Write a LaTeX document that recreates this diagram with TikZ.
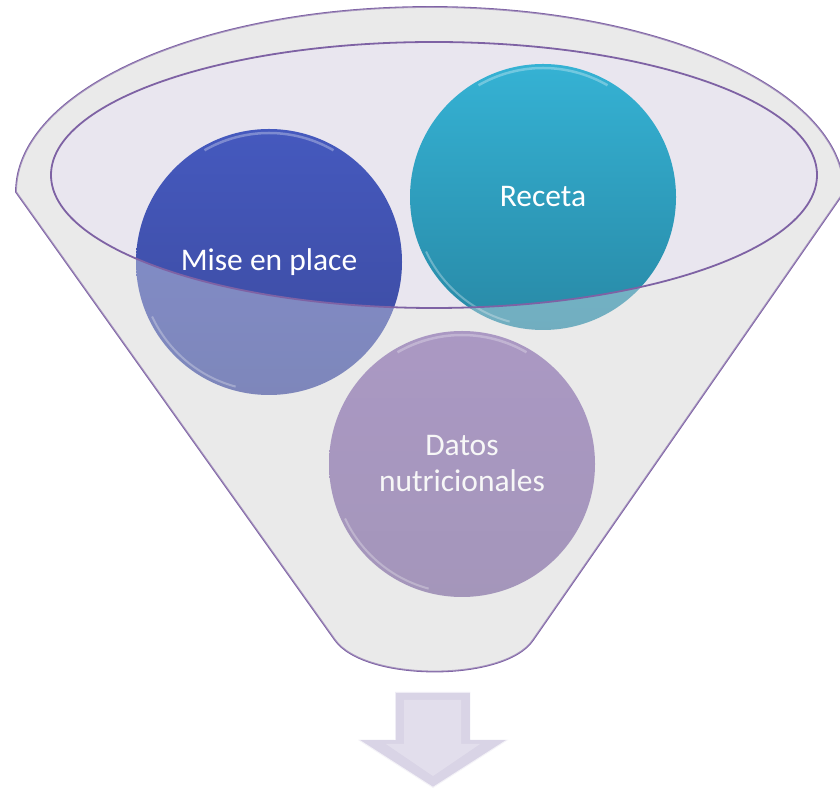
\documentclass[tikz,border=0pt]{standalone}
\usepackage{fontspec}
\setmainfont{Carlito}
\usetikzlibrary{shapes.geometric}
\definecolor{rimpurple}{HTML}{7E62A4}
\definecolor{funnelgray}{HTML}{EAEAEA}
\definecolor{innerlav}{HTML}{E9E6EF}
\definecolor{miseblue}{HTML}{3C4A9E}
\definecolor{misetop}{HTML}{4559BE}
\definecolor{recetatop}{HTML}{35B2D4}
\definecolor{recetabot}{HTML}{2889A6}
\definecolor{datostop}{HTML}{8466AC}
\definecolor{datosbot}{HTML}{7A649E}
\definecolor{arrowlav}{HTML}{D9D4E6}
\tikzset{
	bubble/.style={circle, minimum size=266pt, inner sep=0pt, text=white,
		font=\fontsize{31.5}{36}\selectfont, align=center},
	rim/.style={draw=rimpurple, line width=1.8pt}
}

\begin{document}
\begin{tikzpicture}[x=1pt,y=1pt]
	\useasboundingbox (0,0) rectangle (840,792);
	% funnel body
	\fill[funnelgray] (16,600) arc (180:0:414 and 185) -- (533,152)
		.. controls (505,110) and (365,110) .. (335,152) -- cycle;
	\draw[rim] (16,600) arc (180:0:414 and 185) -- (533,152)
		.. controls (505,110) and (365,110) .. (335,152) -- cycle;
	\fill[innerlav] (434,617) ellipse (383 and 133);
	% bubbles
	\node[bubble, top color=misetop, bottom color=miseblue] (mise) at (269,530) {Mise en place};
	\node[bubble, top color=recetatop, bottom color=recetabot] (receta) at (543,595) {Receta};
	\node[bubble, top color=datostop, bottom color=datosbot] (datos) at (462,328) {Datos\\nutricionales};
	\foreach \n in {mise,receta,datos}{
		\draw[white, opacity=0.3, line width=2.5pt] (\n.center) ++(120:129) arc (120:60:129);
		\draw[white, opacity=0.3, line width=2pt] (\n.center) ++(255:129) arc (255:205:129);
	}
	% front of the funnel over the bubbles
	\fill[funnelgray, opacity=0.38, even odd rule] (16,600) arc (180:0:414 and 185) -- (533,152)
		.. controls (505,110) and (365,110) .. (335,152) -- cycle
		(434,617) ellipse (383 and 133);
	\draw[rim] (434,617) ellipse (383 and 133);
	% down arrow
	\fill[arrowlav] (395,100) -- (470,100) -- (470,52) -- (508,52) -- (433,4)
		-- (358,52) -- (395,52) -- cycle;
	\draw[white, opacity=0.7, line width=2pt] (358,52) -- (433,4) -- (508,52);
	\draw[white, opacity=0.6, line width=1.5pt] (395,52) -- (395,100) -- (470,100);
	\fill[white, opacity=0.25] (404,92) -- (461,92) -- (461,48) -- (480,48) -- (433,16)
		-- (386,48) -- (404,48) -- cycle;
\end{tikzpicture}
\end{document}
